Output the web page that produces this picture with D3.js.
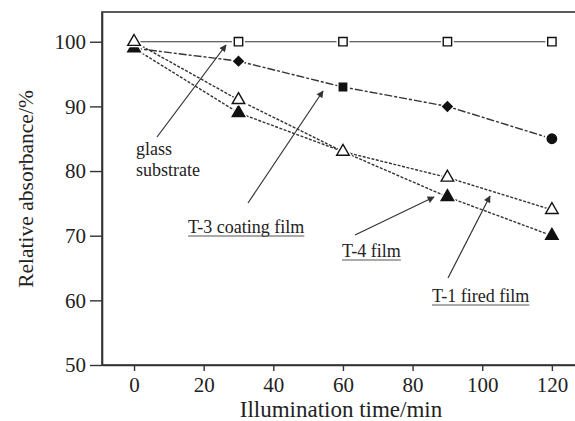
<!DOCTYPE html>
<html><head><meta charset="utf-8">
<script src="https://cdn.jsdelivr.net/npm/d3@7"></script>
<style>body{margin:0;background:#fff}svg{display:block}</style>
</head><body><svg id="c" width="575" height="421"></svg>
<script>
const times = [0, 30, 60, 90, 120];
const glassValues = [100, 100, 100, 100, 100];
const t3Values = [99, 97, 93, 90, 85];
const t1Values = [100, 91, 83, 79, 74];
const t4Values = [99, 89, 83, 76, 70];
const xTicks = [0, 20, 40, 60, 80, 100, 120];
const yTicks = [50, 60, 70, 80, 90, 100];
const t3Markers = ["square", "diamond", "square", "diamond", "circle"];

const svg = d3.select("#c");
const font = "'Liberation Serif','Times New Roman',serif";
const x = d3.scaleLinear().domain([-9.2, 127.5]).range([102, 578]);
const y = d3.scaleLinear().domain([50, 104.6]).range([365, 12]);
const ink = "#222";

svg.append("rect").attr("x", 102).attr("y", 12).attr("width", 476).attr("height", 353)
  .attr("fill", "none").attr("stroke", "#333").attr("stroke-width", 1.6);

const xAxis = svg.append("g").attr("transform", "translate(0,365)")
  .call(d3.axisBottom(x).tickValues(xTicks).tickSize(6).tickPadding(6).tickSizeOuter(0));
const yAxis = svg.append("g").attr("transform", "translate(102,0)")
  .call(d3.axisLeft(y).tickValues(yTicks).tickSize(12).tickPadding(4).tickSizeOuter(0));
[xAxis, yAxis].forEach(a => {
  a.select(".domain").attr("stroke", "#333").attr("stroke-width", 1.6);
  a.selectAll(".tick line").attr("stroke", "#333").attr("stroke-width", 1.4);
  a.selectAll("text").attr("font-family", font).attr("font-size", 21).attr("fill", ink);
});

svg.append("text").attr("x", 341).attr("y", 417).attr("text-anchor", "middle")
  .attr("font-family", font).attr("font-size", 23).attr("fill", ink).text("Illumination time/min");
svg.append("text").attr("transform", "translate(33,189) rotate(-90)").attr("text-anchor", "middle")
  .attr("font-family", font).attr("font-size", 21.5).attr("fill", ink).text("Relative absorbance/%");

const line = d3.line().x(d => x(d[0])).y(d => y(d[1]));
function series(vals, dash, width) {
  const pts = times.map((t, i) => [t, vals[i]]);
  svg.append("path").attr("d", line(pts)).attr("fill", "none").attr("stroke", "#333")
    .attr("stroke-width", width).attr("stroke-dasharray", dash);
  return pts;
}
const gPts = series(glassValues, null, 1.2);
const t3Pts = series(t3Values, "8,2,3,2", 1.4);
const t1Pts = series(t1Values, "3,1.5", 1.4);
const t4Pts = series(t4Values, "3,1.5", 1.4);

const sym = {
  square: d3.symbol().type(d3.symbolSquare),
  diamond: d3.symbol().type(d3.symbolSquare),
  circle: d3.symbol().type(d3.symbolCircle),
  triangle: d3.symbol().type(d3.symbolTriangle)
};
function marker(pt, type, size, filled) {
  const rot = type === "diamond" ? " rotate(45)" : "";
  const g = svg.append("g").attr("transform", `translate(${x(pt[0])},${y(pt[1])})${rot}`);
  g.append("path").attr("d", sym[type].size(size * 2.4)()).attr("fill", "#fff").attr("stroke", "none");
  g.append("path").attr("d", sym[type].size(size)())
    .attr("fill", filled ? "#111" : "#fff").attr("stroke", "#111").attr("stroke-width", 1.4);
}
gPts.slice(1).forEach(p => marker(p, "square", 70, false));
t3Pts.slice(1).forEach((p, i) => {
  const t = t3Markers[i + 1];
  marker(p, t, t === "circle" ? 70 : t === "diamond" ? 45 : 55, true);
});
t4Pts.forEach(p => marker(p, "triangle", 68, true));
t1Pts.forEach(p => marker(p, "triangle", 68, false));

svg.append("defs").append("marker").attr("id", "ah").attr("viewBox", "0 0 10 10")
  .attr("refX", 9).attr("refY", 5).attr("markerWidth", 10).attr("markerHeight", 7)
  .attr("markerUnits", "userSpaceOnUse").attr("orient", "auto")
  .append("path").attr("d", "M0,0L10,5L0,10z").attr("fill", "#333");
const arrows = [
  [157, 137, 226, 45],
  [248, 203, 323, 91],
  [355, 235, 434, 197],
  [448, 278, 490, 196]
];
arrows.forEach(a => svg.append("line").attr("x1", a[0]).attr("y1", a[1]).attr("x2", a[2]).attr("y2", a[3])
  .attr("stroke", "#333").attr("stroke-width", 1.2).attr("marker-end", "url(#ah)"));

const labels = [
  {t: "glass", x: 136, y: 155, u: false},
  {t: "substrate", x: 136, y: 176, u: false},
  {t: "T-3 coating film", x: 188, y: 233, u: true},
  {t: "T-4 film", x: 342, y: 257, u: true},
  {t: "T-1 fired film", x: 432, y: 302, u: true}
];
labels.forEach(l => {
  const t = svg.append("text").attr("x", l.x).attr("y", l.y).attr("font-family", font)
    .attr("font-size", 18).attr("fill", ink).text(l.t);
  if (l.u) {
    const w = t.node().getComputedTextLength();
    svg.append("line").attr("x1", l.x).attr("x2", l.x + w).attr("y1", l.y + 3).attr("y2", l.y + 3)
      .attr("stroke", "#555").attr("stroke-width", 1);
  }
});
</script></body></html>
